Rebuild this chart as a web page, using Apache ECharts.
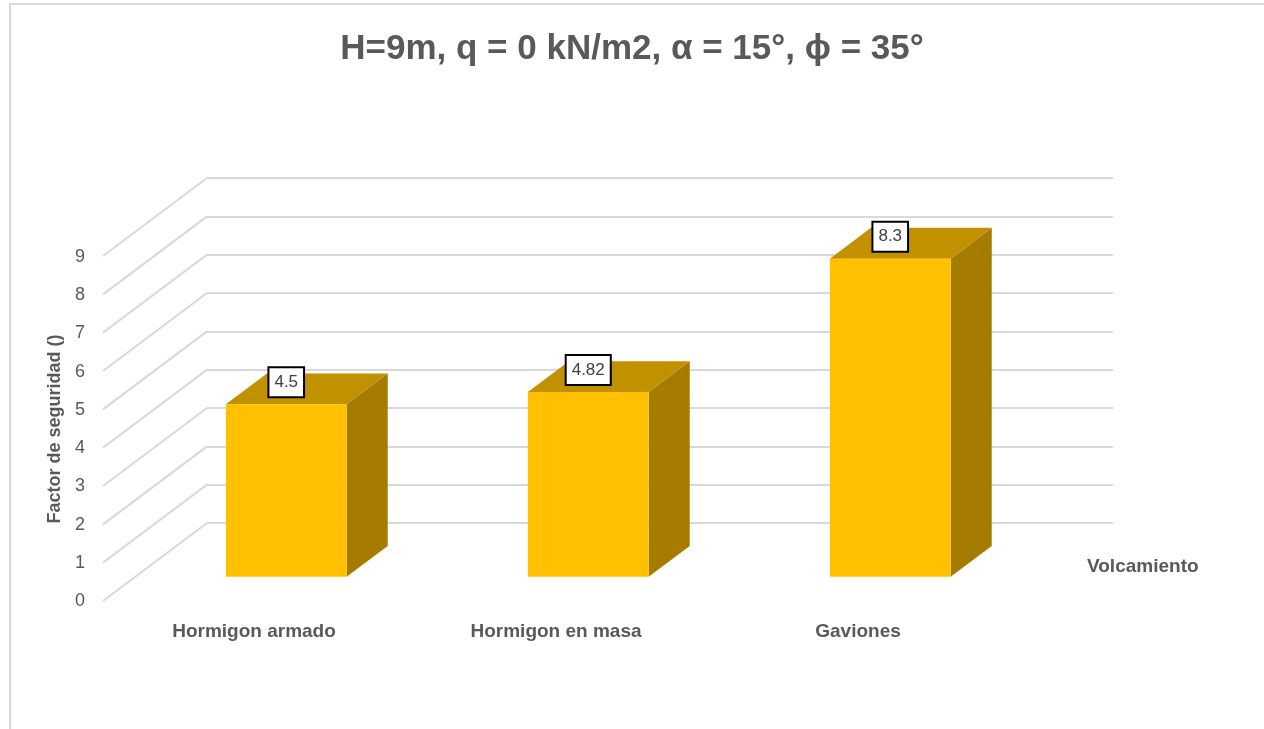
<!DOCTYPE html>
<html>
<head>
<meta charset="utf-8">
<script src="https://cdn.jsdelivr.net/npm/echarts@6/dist/echarts.min.js"></script>
<style>html,body{margin:0;padding:0;background:#fff;}#c{width:1264px;height:729px;}</style>
</head>
<body>
<div id="c"></div>
<script>
const categories = ['Hormigon armado', 'Hormigon en masa', 'Gaviones'];
const values = [4.5, 4.82, 8.3];
const yTicks = [0, 1, 2, 3, 4, 5, 6, 7, 8, 9];
const seriesName = 'Volcamiento';
const titleText = 'H=9m, q = 0 kN/m2, \u03b1 = 15\u00b0, \u03d5 = 35\u00b0';
const yName = 'Factor de seguridad ()';

// 3D projection constants (layout only)
const WALL_DX = -104, WALL_DY = 78;      // back wall -> front plane
const BAR_FRONT = 0.69, BAR_BACK = 0.295; // depth fractions of bar faces
const BAR_W = 0.4;                        // bar width as fraction of band
const FONT = '"Liberation Sans", "DejaVu Sans", sans-serif';
const GRAY = '#595959';

const chart = echarts.init(document.getElementById('c'), null, {renderer: 'canvas'});

const option = {
  animation: false,
  backgroundColor: '#ffffff',
  title: {
    text: titleText,
    left: 'center',
    top: 27,
    textStyle: {fontFamily: FONT, fontSize: 35, fontWeight: 'bold', color: GRAY}
  },
  legend: {
    data: [{name: seriesName, icon: 'rect', itemStyle: {color: 'rgba(0,0,0,0)', borderWidth: 0}}],
    left: 1075,
    top: 552,
    itemWidth: 2,
    itemHeight: 2,
    textStyle: {fontFamily: FONT, fontSize: 19, fontWeight: 'bold', color: GRAY}
  },
  graphic: [{
    type: 'rect',
    shape: {x: 10, y: 4, width: 1400, height: 900},
    style: {fill: 'none', stroke: '#d9d9d9', lineWidth: 2},
    silent: true
  }],
  grid: [
    {left: 207, right: 151, top: 178, bottom: 206},   // back wall
    {left: 103, right: 255, top: 257, bottom: 128}    // front plane (labels)
  ],
  xAxis: [
    {type: 'category', gridIndex: 0, data: categories, boundaryGap: true,
     axisLine: {show: false}, axisTick: {show: false}, axisLabel: {show: false}, splitLine: {show: false}},
    {type: 'category', gridIndex: 1, data: categories, boundaryGap: true,
     axisLine: {show: false}, axisTick: {show: false},
     axisLabel: {margin: 21, fontFamily: FONT, fontSize: 19, fontWeight: 'bold', color: GRAY},
     splitLine: {show: false}}
  ],
  yAxis: [
    {type: 'value', gridIndex: 0, min: 0, max: 9, interval: 1,
     axisLine: {show: false}, axisTick: {show: false}, axisLabel: {show: false},
     splitLine: {show: true, lineStyle: {color: '#d9d9d9', width: 2}}},
    {type: 'value', gridIndex: 1, min: 0, max: 9, interval: 1,
     axisLine: {show: false}, axisTick: {show: false}, splitLine: {show: false},
     axisLabel: {margin: 18, fontFamily: FONT, fontSize: 18, color: GRAY},
     name: yName, nameLocation: 'middle', nameRotate: 90, nameGap: 37,
     nameTextStyle: {fontFamily: FONT, fontSize: 18, fontWeight: 'bold', color: GRAY}}
  ],
  series: [
    {
      type: 'custom',
      name: 'walls',
      xAxisIndex: 0, yAxisIndex: 0,
      silent: true,
      z: 1,
      data: yTicks.map(t => [0, t]),
      encode: {x: 0, y: 1},
      renderItem: function (params, api) {
        const p = api.coord([0, api.value(1)]);
        const band = api.size([1, 0])[0];
        const left = p[0] - band / 2;
        return {
          type: 'line',
          shape: {x1: left, y1: p[1], x2: left + WALL_DX, y2: p[1] + WALL_DY},
          style: {stroke: '#d9d9d9', lineWidth: 2}
        };
      }
    },
    {
      type: 'custom',
      name: seriesName,
      xAxisIndex: 0, yAxisIndex: 0,
      z: 5,
      data: values.map((v, i) => [i, v]),
      encode: {x: 0, y: 1},
      itemStyle: {color: '#FFC000'},
      renderItem: function (params, api) {
        const i = api.value(0), v = api.value(1);
        const top = api.coord([i, v]);
        const base = api.coord([i, 0]);
        const band = api.size([1, 0])[0];
        const half = band * BAR_W / 2;
        const fx = WALL_DX * BAR_FRONT, fy = WALL_DY * BAR_FRONT;
        const dx = WALL_DX * (BAR_BACK - BAR_FRONT), dy = WALL_DY * (BAR_BACK - BAR_FRONT);
        const cx = top[0] + fx;
        const x0 = cx - half, x1 = cx + half;
        const yT = top[1] + fy, yB = base[1] + fy;
        return {
          type: 'group',
          children: [
            {type: 'polygon', shape: {points: [[x1, yT], [x1 + dx, yT + dy], [x1 + dx, yB + dy], [x1, yB]]},
             style: {fill: '#A67C00'}},
            {type: 'polygon', shape: {points: [[x0, yT], [x1, yT], [x1 + dx, yT + dy], [x0 + dx, yT + dy]]},
             style: {fill: '#C29100'}},
            {type: 'rect', shape: {x: x0, y: yT, width: x1 - x0, height: yB - yT},
             style: {fill: '#FFC000'}},
            {type: 'text', z2: 10,
             style: {text: String(values[i]), x: cx, y: yT - 22, align: 'center', verticalAlign: 'middle',
                     fill: '#404040', fontFamily: FONT, fontSize: 17,
                     backgroundColor: '#ffffff', borderColor: '#000000', borderWidth: 2,
                     padding: [6, 5, 5, 5]}}
          ]
        };
      }
    }
  ]
};
chart.setOption(option);
</script>
</body>
</html>
